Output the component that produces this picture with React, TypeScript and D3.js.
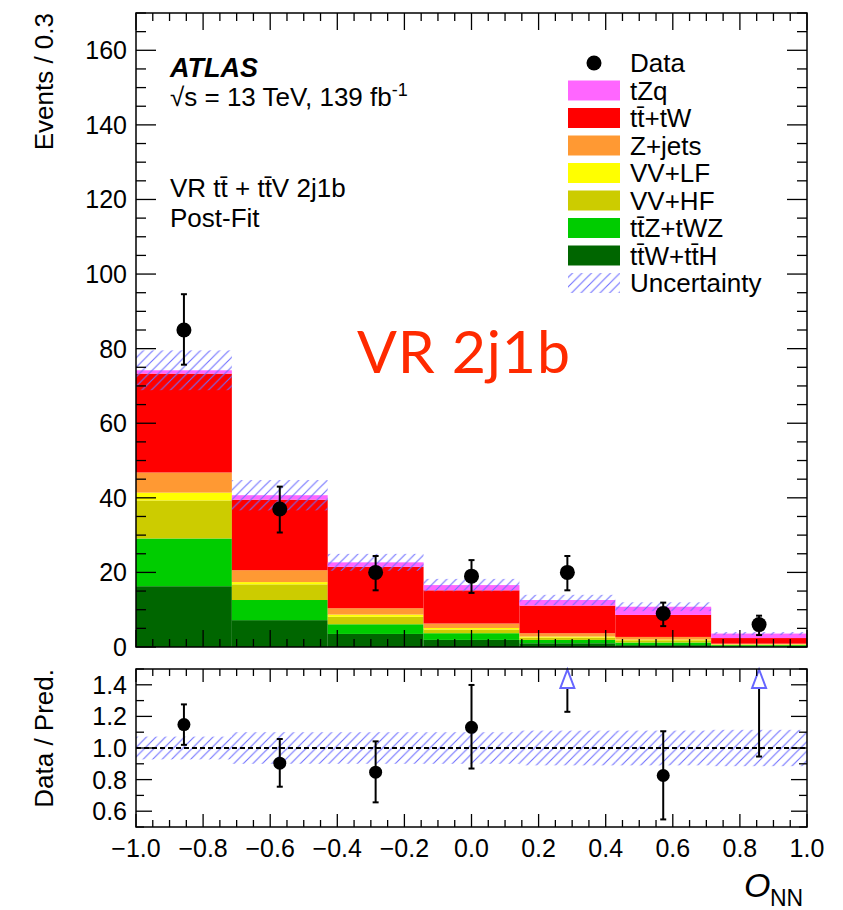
import React from 'react';
import * as d3 from 'd3';

// ---- data ----
const binEdges = [-1, -0.7143, -0.4286, -0.1429, 0.1429, 0.4286, 0.7143, 1];
const sampleNames = ['ttW+ttH', 'ttZ+tWZ', 'VV+HF', 'VV+LF', 'Z+jets', 'tt+tW', 'tZq'];
const ttWttH = [16.3, 7.2, 3.5, 1.9, 1.0, 0.5, 0.2];
const ttZtWZ = [12.8, 5.4, 2.6, 1.8, 0.9, 0.7, 0.3];
const vvHF = [10.2, 4.2, 2.0, 1.0, 0.6, 0.6, 0.1];
const vvLF = [2.1, 0.6, 0.6, 0.4, 0.3, 0.2, 0.1];
const zJets = [5.4, 3.2, 1.7, 1.2, 0.9, 0.7, 0.2];
const ttTW = [26.5, 18.9, 11.1, 8.9, 7.4, 5.9, 1.5];
const tZq = [0.9, 1.2, 1.2, 1.4, 1.5, 2.2, 1.2];
const relUnc = [0.072, 0.1, 0.1, 0.1, 0.11, 0.11, 0.115];

const dataVal = [85, 37, 20, 19, 20, 9, 6];
const dataLo = [75.7, 30.7, 15.2, 14.5, 15.2, 5.6, 3.2];
const dataHi = [94.6, 43.0, 24.4, 23.3, 24.4, 11.9, 8.4];

const ratioVal = [1.148, 0.904, 0.847, 1.131, 1.59, 0.826, 1.67];
const ratioLo = [1.02, 0.755, 0.656, 0.87, 1.229, 0.548, 0.946];
const ratioHi = [1.276, 1.057, 1.042, 1.399, 2.0, 1.106, 2.3];

const xTickLabels = ['\u22121.0', '\u22120.8', '\u22120.6', '\u22120.4', '\u22120.2', '0.0', '0.2', '0.4', '0.6', '0.8', '1.0'];
const yTicksMain = [0, 20, 40, 60, 80, 100, 120, 140, 160];
const yTicksRatio = [0.6, 0.8, 1.0, 1.2, 1.4];

const stackSeries = [ttWttH, ttZtWZ, vvHF, vvLF, zJets, ttTW, tZq];
const stackColors = ['#006600', '#00cc00', '#cccc00', '#ffff00', '#ff9933', '#ff0000', '#ff66ff'];

const legendEntries = [
  { label: 'tZq', color: '#ff66ff' },
  { label: 't\u0074\u0304+tW', color: '#ff0000' },
  { label: 'Z+jets', color: '#ff9933' },
  { label: 'VV+LF', color: '#ffff00' },
  { label: 'VV+HF', color: '#cccc00' },
  { label: 'tt\u0304Z+tWZ', color: '#00cc00' },
  { label: 'tt\u0304W+tt\u0304H', color: '#006600' },
];

const FONT = '"Liberation Sans", Arial, Helvetica, sans-serif';
const HATCH = '#6f6fff';

export default function App() {
  const x = d3.scaleLinear().domain([-1, 1]).range([136, 807]);
  const y = d3.scaleLinear().domain([0, 170]).range([647, 13]);
  const yr = d3.scaleLinear().domain([0.5, 1.5]).range([827, 669]);

  const nBins = dataVal.length;
  const bins = d3.range(nBins);
  const totals = bins.map((i) => d3.sum(stackSeries, (s) => s[i]));

  const rects: JSX.Element[] = [];
  bins.forEach((i) => {
    let cum = 0;
    stackSeries.forEach((s, k) => {
      const y0 = cum;
      cum += s[i];
      rects.push(
        <rect key={`s${i}-${k}`} x={x(binEdges[i])} width={x(binEdges[i + 1]) - x(binEdges[i])}
          y={y(cum)} height={y(y0) - y(cum)} fill={stackColors[k]} />
      );
    });
  });

  const centers = bins.map((i) => (binEdges[i] + binEdges[i + 1]) / 2);

  // ticks
  const ticks: JSX.Element[] = [];
  const xMinor = d3.range(-1, 1.0001, 0.05);
  xMinor.forEach((v, j) => {
    const major = j % 4 === 0;
    const px = x(v);
    const lm = major ? 17 : 8;
    const lr = major ? 13 : 7;
    ticks.push(<line key={`xb${j}`} x1={px} x2={px} y1={647} y2={647 - lm} />);
    ticks.push(<line key={`xt${j}`} x1={px} x2={px} y1={13} y2={13 + lm} />);
    ticks.push(<line key={`rb${j}`} x1={px} x2={px} y1={827} y2={827 - lr} />);
    ticks.push(<line key={`rt${j}`} x1={px} x2={px} y1={669} y2={669 + lr} />);
  });
  d3.range(0, 170.001, 5).forEach((v, j) => {
    const major = v % 20 === 0;
    const l = major ? 20 : 10;
    ticks.push(<line key={`yl${j}`} x1={136} x2={136 + l} y1={y(v)} y2={y(v)} />);
    ticks.push(<line key={`yr${j}`} x1={807} x2={807 - l} y1={y(v)} y2={y(v)} />);
  });
  d3.range(0.5, 1.5001, 0.1).forEach((v, j) => {
    const major = j % 2 === 1;
    const l = major ? 16 : 8;
    ticks.push(<line key={`ryl${j}`} x1={136} x2={136 + l} y1={yr(v)} y2={yr(v)} />);
    ticks.push(<line key={`ryr${j}`} x1={807} x2={807 - l} y1={yr(v)} y2={yr(v)} />);
  });

  const legendY0 = 63;
  const legendDy = 27.5;

  return (
    <svg width={843} height={910} style={{ position: 'absolute', left: 0, top: 0, background: '#fff' }}
      fontFamily={FONT}>
      <defs>
        <pattern id="hatch" patternUnits="userSpaceOnUse" width={9.5} height={9.5}>
          <path d="M-1,10.5 L10.5,-1 M-5.75,5.75 L5.75,-5.75 M3.75,15.25 L15.25,3.75" stroke={HATCH} strokeWidth={1.1} fill="none" />
        </pattern>
        <clipPath id="ratioClip">
          <rect x={136} y={669} width={671} height={158} />
        </clipPath>
      </defs>
      <rect x={0} y={0} width={843} height={910} fill="#fff" />

      {/* main stack */}
      {rects}
      {bins.map((i) => (
        <rect key={`u${i}`} x={x(binEdges[i])} width={x(binEdges[i + 1]) - x(binEdges[i])}
          y={y(totals[i] * (1 + relUnc[i]))}
          height={y(totals[i] * (1 - relUnc[i])) - y(totals[i] * (1 + relUnc[i]))}
          fill="url(#hatch)" />
      ))}

      {/* main data */}
      <g stroke="#000" strokeWidth={2}>
        {bins.map((i) => {
          const cx = x(centers[i]);
          return (
            <g key={`d${i}`}>
              <line x1={cx} x2={cx} y1={y(dataLo[i])} y2={y(dataHi[i])} />
              <line x1={cx - 3} x2={cx + 3} y1={y(dataLo[i])} y2={y(dataLo[i])} />
              <line x1={cx - 3} x2={cx + 3} y1={y(dataHi[i])} y2={y(dataHi[i])} />
              <circle cx={cx} cy={y(dataVal[i])} r={7.5} fill="#000" stroke="none" />
            </g>
          );
        })}
      </g>

      {/* ratio */}
      <g clipPath="url(#ratioClip)">
        {bins.map((i) => (
          <rect key={`ru${i}`} x={x(binEdges[i])} width={x(binEdges[i + 1]) - x(binEdges[i])}
            y={yr(1 + relUnc[i])} height={yr(1 - relUnc[i]) - yr(1 + relUnc[i])} fill="url(#hatch)" />
        ))}
        <line x1={136} x2={807} y1={yr(1)} y2={yr(1)} stroke="#000" strokeWidth={2} strokeDasharray="5,3" />
      </g>
      <g stroke="#000" strokeWidth={2}>
        {bins.map((i) => {
          const cx = x(centers[i]);
          if (ratioVal[i] > 1.5) {
            const base = 688;
            return (
              <g key={`r${i}`}>
                <line x1={cx} x2={cx} y1={base} y2={yr(ratioLo[i])} />
                <line x1={cx - 3} x2={cx + 3} y1={yr(ratioLo[i])} y2={yr(ratioLo[i])} />
                <path d={`M${cx},669.5 L${cx - 7},${base} L${cx + 7},${base} Z`} fill="#fff" stroke="#6666ff" strokeWidth={2} />
              </g>
            );
          }
          return (
            <g key={`r${i}`}>
              <line x1={cx} x2={cx} y1={yr(ratioLo[i])} y2={yr(ratioHi[i])} />
              <line x1={cx - 3} x2={cx + 3} y1={yr(ratioLo[i])} y2={yr(ratioLo[i])} />
              <line x1={cx - 3} x2={cx + 3} y1={yr(ratioHi[i])} y2={yr(ratioHi[i])} />
              <circle cx={cx} cy={yr(ratioVal[i])} r={6.5} fill="#000" stroke="none" />
            </g>
          );
        })}
      </g>

      {/* ticks and frames */}
      <g stroke="#000" strokeWidth={1.3}>{ticks}</g>
      <rect x={136} y={13} width={671} height={634} fill="none" stroke="#000" strokeWidth={1.5} />
      <rect x={136} y={669} width={671} height={158} fill="none" stroke="#000" strokeWidth={1.5} />

      {/* tick labels */}
      <g fontSize={25} fill="#000">
        {yTicksMain.map((v) => (
          <text key={`ym${v}`} x={127} y={y(v)} dy="0.36em" textAnchor="end">{v}</text>
        ))}
        {yTicksRatio.map((v) => (
          <text key={`yrl${v}`} x={127} y={yr(v)} dy="0.36em" textAnchor="end">{v.toFixed(1)}</text>
        ))}
        {xTickLabels.map((t, j) => (
          <text key={`xl${j}`} x={x(-1 + 0.2 * j)} y={857} textAnchor="middle">{t}</text>
        ))}
      </g>

      {/* axis titles */}
      <text transform="translate(53,13) rotate(-90)" textAnchor="end" fontSize={26}>Events / 0.3</text>
      <text transform="translate(53,669) rotate(-90)" textAnchor="end" fontSize={26}>Data / Pred.</text>
      <text x={744} y={897} fontSize={34} fontStyle="italic">O</text>
      <text x={770} y={906} fontSize={23}>NN</text>

      {/* labels */}
      <text x={170} y={77} fontSize={27} fontWeight="bold" fontStyle="italic">ATLAS</text>
      <text x={170} y={106} fontSize={26}>
        √s = 13 TeV, 139 fb<tspan dy={-10} fontSize={18}>-1</tspan>
      </text>
      <text x={170} y={197} fontSize={26}>VR tt̄ + tt̄V 2j1b</text>
      <text x={170} y={227} fontSize={26}>Post-Fit</text>

      {/* big red label */}
      <text x={357} y={373} fontSize={59} fill="#ff2a00" fontFamily="Lato, 'Open Sans', sans-serif" textLength={213}>VR 2j1b</text>

      {/* legend */}
      <circle cx={594} cy={legendY0} r={7.5} fill="#000" />
      <text x={630} y={legendY0 + 9} fontSize={26}>Data</text>
      {legendEntries.map((e, k) => {
        const cy = legendY0 + legendDy * (k + 1);
        return (
          <g key={`lg${k}`}>
            <rect x={568} y={cy - 10} width={52} height={20} fill={e.color} />
            <text x={630} y={cy + 9} fontSize={26}>{e.label}</text>
          </g>
        );
      })}
      <rect x={568} y={legendY0 + legendDy * 8 - 10} width={52} height={20} fill="url(#hatch)" />
      <text x={630} y={legendY0 + legendDy * 8 + 9} fontSize={26}>Uncertainty</text>
    </svg>
  );
}
